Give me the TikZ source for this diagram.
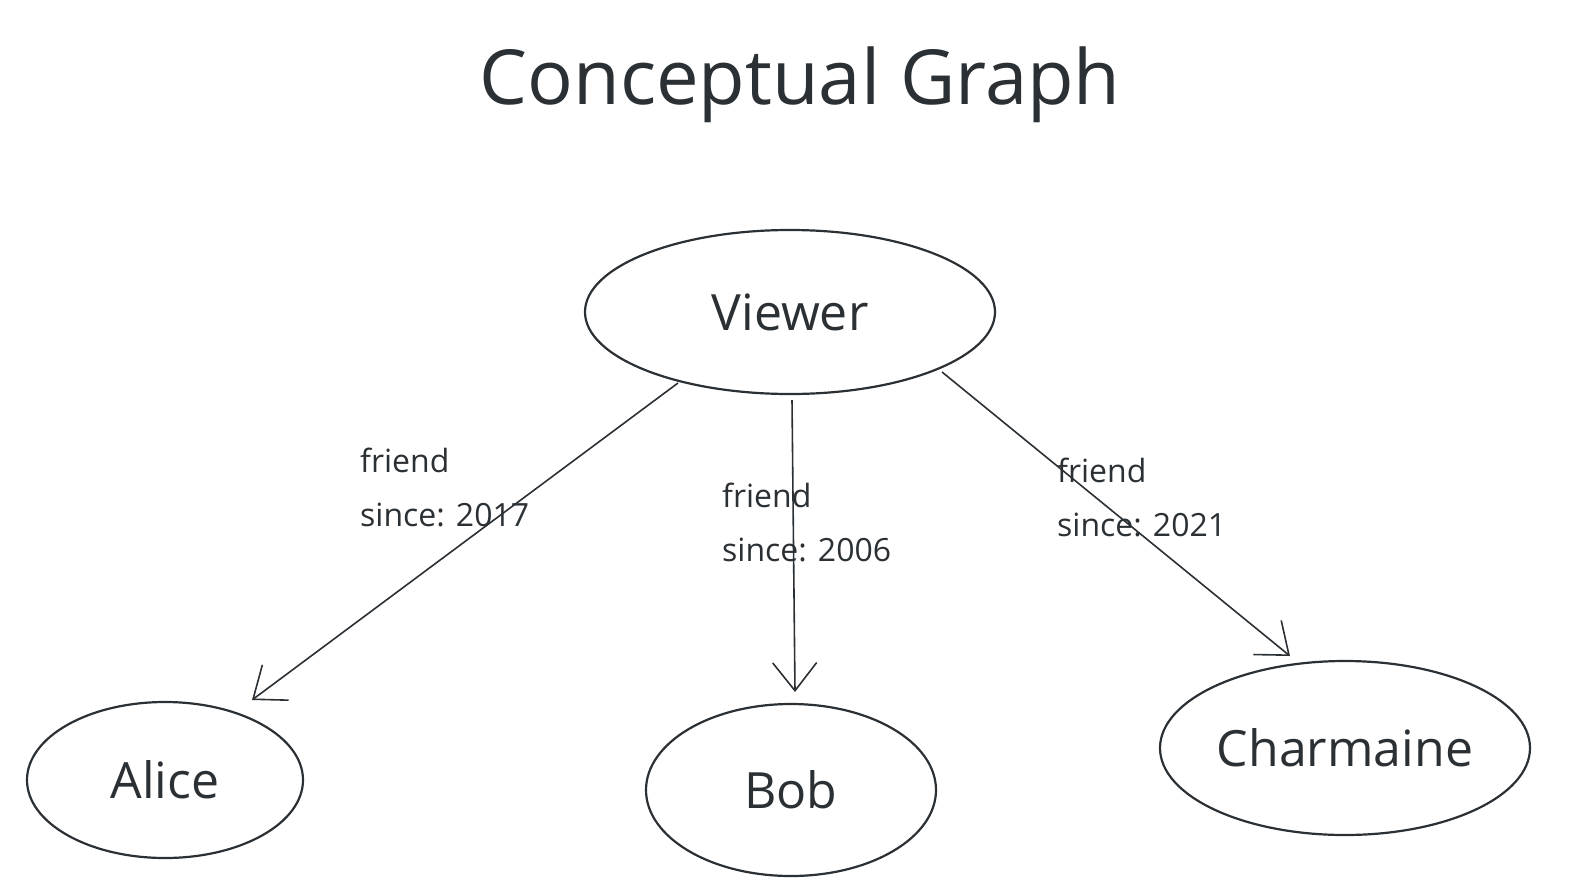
\documentclass[tikz,border=0pt]{standalone}
\usepackage{fontspec}
\setmainfont{Open Sans}
\usetikzlibrary{arrows.meta,shapes.geometric}
\definecolor{ink}{HTML}{2B3034}
\begin{document}
\begin{tikzpicture}[x=1pt,y=-1pt,
  ent/.style={ellipse,draw=ink,line width=2.2pt,inner sep=0pt,text=ink,font=\fontsize{50}{60}\selectfont},
  rel/.style={draw=ink,line width=1.6pt,-{Straight Barb[length=28pt,width=44pt,line width=1.6pt]}},
  lab/.style={text=ink,align=left,anchor=north west,inner sep=0pt,font=\fontsize{32}{54}\selectfont}]
\useasboundingbox (0,0) rectangle (1570,894);
\node[text=ink,font=\fontsize{76}{90}\selectfont] (title) at (800,85) {Conceptual Graph};
\node[ent,minimum width=410pt,minimum height=164pt] (v) at (790,312) {Viewer};
\node[ent,minimum width=276pt,minimum height=156pt] (a) at (165,780) {Alice};
\node[ent,minimum width=290pt,minimum height=172pt] (b) at (791,790) {Bob};
\node[ent,minimum width=370pt,minimum height=174pt] (c) at (1345,748) {Charmaine};
\coordinate (v1) at (678,383);
\coordinate (v2) at (792,400);
\coordinate (v3) at (942,372);
\coordinate (a1) at (252,700);
\coordinate (b1) at (795,692);
\coordinate (c1) at (1290,656);
\draw[rel] (v1) -- (a1);
\draw[rel] (v2) -- (b1);
\draw[rel] (v3) -- (c1);
\node[lab] (l1) at (360,448) {friend\\since: 2017};
\node[lab] (l2) at (722,483) {friend\\since: 2006};
\node[lab] (l3) at (1057,458) {friend\\since: 2021};
\end{tikzpicture}
\end{document}
